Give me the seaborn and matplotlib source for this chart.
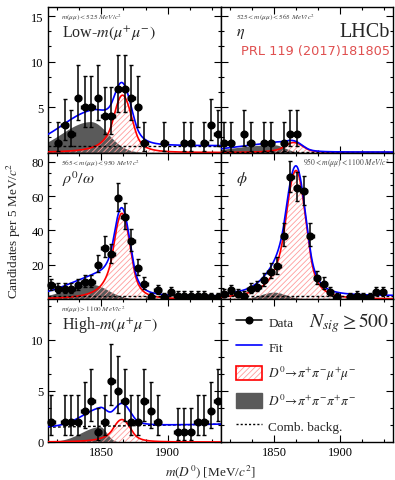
import math
import numpy as np
import matplotlib
matplotlib.use("Agg")
import matplotlib.pyplot as plt
import seaborn as sns
from matplotlib.ticker import MultipleLocator
from matplotlib.lines import Line2D
from matplotlib.patches import Patch

# m(D0) bin centres, 5 MeV bins between 1810 and 1940
mass_bins = [1812.5, 1817.5, 1822.5, 1827.5, 1832.5, 1837.5, 1842.5, 1847.5,
             1852.5, 1857.5, 1862.5, 1867.5, 1872.5, 1877.5, 1882.5, 1887.5,
             1892.5, 1897.5, 1902.5, 1907.5, 1912.5, 1917.5, 1922.5, 1927.5,
             1932.5, 1937.5]

# candidates per bin in each m(mumu) region
counts_low = [0, 1, 3, 2, 6, 5, 5, 6, 4, 4, 7, 7, 6, 5, 1, 0, 0, 1, 0, 0, 1, 1, 0, 1, 3, 2]
counts_eta = [1, 1, 0, 2, 1, 0, 1, 1, 0, 1, 2, 2, 0, 0, 0, 0, 0, 0, 0, 0, 0, 0, 0, 0, 0, 0]
counts_rho = [8, 6, 6, 6, 8, 10, 10, 20, 30, 26, 59, 48, 34, 18, 9, 1, 5, 1, 4, 2, 2, 2, 2, 2, 1, 1]
counts_phi = [3, 5, 3, 2, 6, 7, 11, 16, 19, 37, 71, 65, 63, 37, 12, 9, 4, 1, 0, 1, 2, 1, 1, 4, 4, 0]
counts_high = [2, 0, 2, 2, 2, 3, 4, 1, 2, 6, 5, 4, 2, 2, 4, 3, 2, 0, 0, 1, 1, 1, 2, 2, 3, 4]

# fit components, order: low, eta, rho/omega, phi, high
sig_height = [6.3, 1.1, 50.0, 75.0, 2.2]
sig_mean = [1866.0, 1865.0, 1865.5, 1866.7, 1865.5]
sig_width_left = [6.8, 7.0, 6.3, 8.0, 6.5]
sig_width_right = [7.0, 7.0, 6.3, 7.5, 6.5]
mis_height = [3.4, 0.85, 8.5, 4.0, 1.5]
mis_mean = [1842.0, 1850.0, 1843.0, 1850.0, 1849.0]
mis_width_left = [22.0, 30.0, 20.0, 10.0, 14.0]
mis_width_right = [13.0, 8.0, 12.0, 9.0, 5.0]
comb_left = [0.75, 0.05, 1.8, 2.0, 1.45]
comb_right = [0.75, 0.05, 1.8, 2.0, 1.75]

panel_names = [r"Low-$m(\mu^{+}\mu^{-})$", r"$\eta$", r"$\rho^{0}/\omega$",
               r"$\phi$", r"High-$m(\mu^{+}\mu^{-})$"]
panel_cuts = [r"$m(\mu\mu) < 525\ MeV/c^2$",
              r"$525 < m(\mu\mu) < 565\ MeV/c^2$",
              r"$565 < m(\mu\mu) < 950\ MeV/c^2$",
              r"$950 < m(\mu\mu) < 1100\ MeV/c^2$",
              r"$m(\mu\mu) > 1100\ MeV/c^2$"]
all_counts = [counts_low, counts_eta, counts_rho, counts_phi, counts_high]

W, H = 395, 481
col_px = [(48, 221), (221, 393)]
row_px = [(8, 153.5), (153.5, 300), (300, 443)]
row_ymax = [16.0, 85.5, 14.0]
row_yticks = [[5, 10, 15], [20, 40, 60, 80], [0, 5, 10]]
row_minor = [5 / 3, 20 / 3, 5 / 3]
panel_cells = [(0, 0), (0, 1), (1, 0), (1, 1), (2, 0)]

BLUE = "#0000ff"
RED = "#ff0000"
HATCH = "#ff9c9c"
GREY = "#5a5a5a"


def poisson_cdf(k, lam):
    if lam <= 0:
        return 1.0
    total = 0.0
    for i in range(k + 1):
        total += math.exp(-lam + i * math.log(lam) - math.lgamma(i + 1))
    return total


def poisson_interval(n, alpha=0.15866):
    def solve(f, lo, hi):
        for _ in range(80):
            mid = 0.5 * (lo + hi)
            if f(mid) > 0:
                lo = mid
            else:
                hi = mid
        return 0.5 * (lo + hi)
    top = n + 10 * math.sqrt(n + 1) + 10
    upper = solve(lambda lam: poisson_cdf(n, lam) - alpha, 0.0, top)
    if n == 0:
        return 0.0, upper
    lower = solve(lambda lam: alpha - (1 - poisson_cdf(n - 1, lam)), 0.0, top)
    return lower, upper


def crystal_ball(m, mu, sl, sr, al=1.1, nl=3.0, ar=1.5, nr=3.0):
    tl = (m - mu) / sl
    tr = (m - mu) / sr
    out = np.exp(-0.5 * np.where(m < mu, tl, tr) ** 2)
    a_l = (nl / al) ** nl * math.exp(-al ** 2 / 2)
    b_l = nl / al - al
    a_r = (nr / ar) ** nr * math.exp(-ar ** 2 / 2)
    b_r = nr / ar - ar
    left = tl < -al
    right = tr > ar
    out[left] = a_l * (b_l - tl[left]) ** (-nl)
    out[right] = a_r * (b_r + tr[right]) ** (-nr)
    return out


def bifurcated_gauss(m, mu, sl, sr):
    return np.exp(-0.5 * ((m - mu) / np.where(m < mu, sl, sr)) ** 2)


def px_rect(cols, rows):
    x0, x1 = cols
    y0, y1 = rows
    return [x0 / W, 1 - y1 / H, (x1 - x0) / W, (y1 - y0) / H]


def style_axis(ax, row, col):
    ax.set_xlim(1810, 1940)
    ax.set_ylim(0, row_ymax[row])
    ax.set_xticks([1850, 1900])
    ax.xaxis.set_minor_locator(MultipleLocator(50 / 3))
    ax.set_yticks(row_yticks[row])
    ax.yaxis.set_minor_locator(MultipleLocator(row_minor[row]))
    ax.tick_params(which="both", direction="in", top=True, right=True,
                   labelsize=9, width=0.8, pad=3, colors="black")
    ax.tick_params(which="major", length=5)
    ax.tick_params(which="minor", length=2.5)
    ax.tick_params(labelbottom=(row == 2), labelleft=(col == 0))
    for sp in ax.spines.values():
        sp.set_linewidth(1.0)
        sp.set_color("black")
    ax.set_xlabel("")
    ax.set_ylabel("")


sns.set_theme(style="ticks")
plt.rcParams["font.family"] = ["Liberation Serif", "DejaVu Serif"]
plt.rcParams["mathtext.fontset"] = "stix"
plt.rcParams["hatch.linewidth"] = 0.6
plt.rcParams["axes.edgecolor"] = "black"

fig = plt.figure(figsize=(W / 100, H / 100), dpi=100)
m = np.linspace(1810, 1940, 700)
x = np.array(mass_bins)

for i, (row, col) in enumerate(panel_cells):
    ax = fig.add_axes(px_rect(col_px[col], row_px[row]))
    sig = sig_height[i] * crystal_ball(m, sig_mean[i], sig_width_left[i], sig_width_right[i])
    mis = mis_height[i] * bifurcated_gauss(m, mis_mean[i], mis_width_left[i], mis_width_right[i])
    comb = np.interp(m, [1810, 1940], [comb_left[i], comb_right[i]])
    total = sig + mis + comb

    ax.fill_between(m, 0, mis, color=GREY, linewidth=0, zorder=1)
    ax.fill_between(m, 0, sig, facecolor="none", edgecolor=HATCH, hatch="//////",
                    linewidth=0, zorder=2)
    sns.lineplot(x=m, y=sig, ax=ax, color=RED, linewidth=1.2, zorder=3)
    sns.lineplot(x=m, y=comb, ax=ax, color="black", linewidth=1.0,
                 linestyle=(0, (2, 1.6)), zorder=3)
    sns.lineplot(x=m, y=total, ax=ax, color=BLUE, linewidth=1.2, zorder=4)

    n = np.array(all_counts[i])
    keep = n > 0
    lo, hi = [], []
    for k in n[keep]:
        a, b = poisson_interval(int(k))
        lo.append(k - a)
        hi.append(b - k)
    ax.errorbar(x[keep], n[keep], yerr=[lo, hi], xerr=2.5, fmt="o", color="black",
                ms=4.8, elinewidth=1.1, capsize=1.5, capthick=1.0, zorder=6,
                clip_on=False)
    style_axis(ax, row, col)

    if i == 3:
        ax.text(0.985, 0.935, panel_cuts[i], transform=ax.transAxes, ha="right",
                va="center", fontsize=5.5, color="#444444")
    else:
        cx = 0.075 if col == 0 else 0.09
        ax.text(cx, 0.935, panel_cuts[i], transform=ax.transAxes, ha="left",
                va="center", fontsize=5.2, color="#444444")
    ax.text(0.08 if col == 0 else 0.09, 0.825, panel_names[i], transform=ax.transAxes,
            ha="left", va="center", fontsize=11.5)
    if i == 1:
        ax.text(0.98, 0.83, "LHCb", transform=ax.transAxes, ha="right",
                va="center", fontsize=14.5)
        ax.text(0.98, 0.70, "PRL 119 (2017)181805", transform=ax.transAxes,
                ha="right", va="center", fontsize=9.3, color="#e05050",
                family=["DejaVu Sans"])

# legend panel
ax_leg = fig.add_axes(px_rect(col_px[1], row_px[2]))
style_axis(ax_leg, 2, 1)
handles = [
    Line2D([], [], color="black", marker="o", ms=4.8, lw=1.1),
    Line2D([], [], color=BLUE, lw=1.2),
    (Patch(facecolor="white", edgecolor=HATCH, hatch="//////", lw=0),
     Patch(facecolor="none", edgecolor=RED, lw=1.2)),
    Patch(facecolor=GREY, edgecolor=GREY),
    Line2D([], [], color="black", lw=1.0, linestyle=(0, (1.5, 1.5))),
]
labels = ["Data", "Fit", r"$D^{0}\!\rightarrow\!\pi^{+}\pi^{-}\mu^{+}\mu^{-}$",
          r"$D^{0}\!\rightarrow\!\pi^{+}\pi^{-}\pi^{+}\pi^{-}$", "Comb. backg."]
ax_leg.legend(handles, labels, loc="upper left", bbox_to_anchor=(0.09, 0.895),
              frameon=False, fontsize=9.5, handlelength=1.9, handleheight=1.3,
              labelspacing=0.8, handletextpad=0.5, borderaxespad=0, borderpad=0)
ax_leg.text(0.98, 0.84, r"$N_{sig} \geq 500$", transform=ax_leg.transAxes,
            ha="right", va="center", fontsize=14)

fig.text(0.035, 0.52, r"Candidates per 5 MeV/$c^2$", rotation=90,
         ha="center", va="center", fontsize=9.5)
fig.text(0.532, 0.019, r"$m(D^0)$ [MeV/$c^2$]", ha="center", va="center",
         fontsize=9.5)

fig.savefig("out.png", dpi=100)
